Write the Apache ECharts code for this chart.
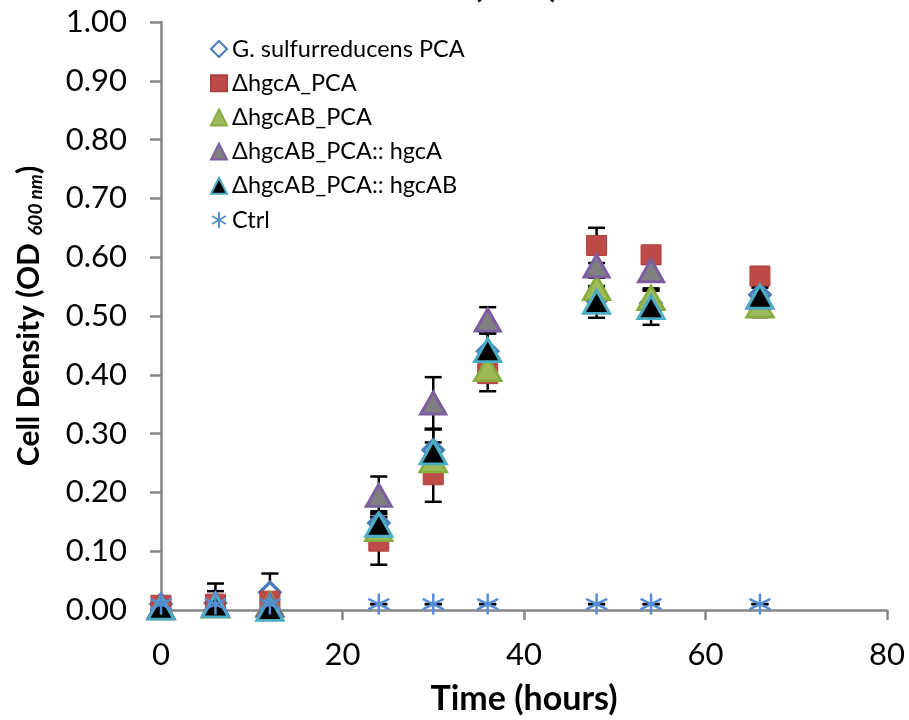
<!DOCTYPE html>
<html>
<head>
<meta charset="utf-8">
<script src="https://cdn.jsdelivr.net/npm/echarts@6/dist/echarts.min.js"></script>
<style>
  html, body { margin: 0; padding: 0; background: #fff; }
  #chart { width: 909px; height: 720px; }
</style>
</head>
<body>
<div id="chart"></div>
<script>
// sampling times (hours)
const times = [0, 6, 12, 24, 30, 36, 48, 54, 66]

// OD600 means
const wtPCA = [0.010, 0.012, 0.030, 0.148, 0.272, 0.440, 0.527, 0.522, 0.536]
const hgcA = [0.008, 0.010, 0.015, 0.117, 0.230, 0.402, 0.620, 0.604, 0.568]
const hgcAB = [0.005, 0.008, 0.010, 0.138, 0.255, 0.410, 0.548, 0.531, 0.518]
const hgcABcompA = [0.006, 0.010, 0.008, 0.195, 0.352, 0.493, 0.585, 0.577, 0.532]
const hgcABcompAB = [0.004, 0.008, 0.002, 0.145, 0.268, 0.442, 0.524, 0.515, 0.533]
const ctrl = [0.010, 0.010, 0.010, 0.010, 0.010, 0.010, 0.010, 0.010, 0.010]

// standard deviations
const wtPCAErr = [0.012, 0.020, 0.032, 0.020, 0.035, 0.030, 0.020, 0.025, 0.015]
const hgcAErr = [0.010, 0.035, 0.020, 0.040, 0.046, 0.030, 0.030, 0.015, 0.015]
const hgcABErr = [0.008, 0.010, 0.010, 0.020, 0.030, 0.020, 0.030, 0.012, 0.020]
const hgcABcompAErr = [0.005, 0.010, 0.010, 0.032, 0.044, 0.022, 0.020, 0.015, 0.020]
const hgcABcompABErr = [0.010, 0.010, 0.005, 0.020, 0.040, 0.030, 0.027, 0.030, 0.015]
const ctrlErr = [0, 0, 0, 0, 0, 0, 0, 0, 0]

const FONT = 'Lato'
const ASTERISK = 'path://M10,0L10,20M1.3,5L18.7,15M1.3,15L18.7,5'

const pairs = (vals) => times.map((t, i) => [t, vals[i]])
const errRows = (vals, errs) => times.map((t, i) => [t, vals[i] - errs[i], vals[i] + errs[i]])

const allErr = [].concat(
  errRows(wtPCA, wtPCAErr),
  errRows(hgcA, hgcAErr),
  errRows(hgcAB, hgcABErr),
  errRows(hgcABcompA, hgcABcompAErr),
  errRows(hgcABcompAB, hgcABcompABErr),
  errRows(ctrl, ctrlErr)
)

const chart = echarts.init(document.getElementById('chart'))

const option = {
  animation: false,
  title: {
    text: '(PCA)',
    left: 468,
    top: -36,
    textStyle: { fontFamily: FONT, fontWeight: 'bold', fontSize: 34, color: '#000' }
  },
  grid: { left: 161, right: 22, top: 22, bottom: 110, outerBoundsMode: 'none' },
  legend: {
    orient: 'vertical',
    left: 205,
    top: 32,
    itemWidth: 16,
    itemHeight: 16,
    itemGap: 10.2,
    textStyle: { fontFamily: FONT, fontSize: 23.5, lineHeight: 24, color: '#000' },
    data: ['G. sulfurreducens PCA', 'ΔhgcA_PCA', 'ΔhgcAB_PCA', 'ΔhgcAB_PCA:: hgcA', 'ΔhgcAB_PCA:: hgcAB', 'Ctrl']
  },
  xAxis: {
    type: 'value',
    min: 0,
    max: 80,
    interval: 20,
    name: 'Time (hours)',
    nameLocation: 'middle',
    nameGap: 72,
    nameTextStyle: { fontFamily: FONT, fontWeight: 'bold', fontSize: 34, color: '#000' },
    axisLine: { onZero: false, lineStyle: { color: '#868686', width: 2.5 } },
    axisTick: { length: 10, lineStyle: { color: '#868686', width: 2.5 } },
    axisLabel: { fontFamily: FONT, fontSize: 31, color: '#000', margin: 29 },
    splitLine: { show: false }
  },
  yAxis: {
    type: 'value',
    min: 0,
    max: 1,
    interval: 0.1,
    name: '{b|Cell Density (OD }{s|600 nm}{b|)}',
    nameLocation: 'middle',
    nameGap: 116,
    nameTextStyle: {
      rich: {
        b: { fontFamily: FONT, fontWeight: 'bold', fontSize: 30, color: '#000' },
        s: { fontFamily: FONT, fontWeight: 'bold', fontStyle: 'italic', fontSize: 19, color: '#000', padding: [12, 0, 0, 0] }
      }
    },
    axisLine: { show: true, lineStyle: { color: '#868686', width: 2.5 } },
    axisTick: { show: true, length: 11, lineStyle: { color: '#868686', width: 2.5 } },
    axisLabel: {
      fontFamily: FONT, fontSize: 31, color: '#000', margin: 34,
      formatter: (v) => v.toFixed(2)
    },
    splitLine: { show: false }
  },
  series: [
    {
      name: 'errors',
      type: 'custom',
      z: 1,
      silent: true,
      data: allErr,
      renderItem: function (params, api) {
        const x = api.value(0)
        const below = api.value(1) < 0
        const lo = api.coord([x, Math.max(0, api.value(1))])
        const hi = api.coord([x, api.value(2)])
        const w = 8.5
        const style = { stroke: '#000', lineWidth: 2.5 }
        const children = [
          { type: 'line', shape: { x1: lo[0], y1: lo[1], x2: hi[0], y2: hi[1] }, style },
          { type: 'line', shape: { x1: hi[0] - w, y1: hi[1], x2: hi[0] + w, y2: hi[1] }, style }
        ]
        if (!below) {
          children.push({ type: 'line', shape: { x1: lo[0] - w, y1: lo[1], x2: lo[0] + w, y2: lo[1] }, style })
        }
        return { type: 'group', children }
      }
    },
    {
      name: 'G. sulfurreducens PCA',
      type: 'scatter',
      z: 2,
      symbol: 'diamond',
      symbolSize: 20,
      itemStyle: { color: '#fff', borderColor: '#4A7EBB', borderWidth: 3.5, opacity: 1 },
      data: pairs(wtPCA)
    },
    {
      name: 'ΔhgcA_PCA',
      type: 'scatter',
      z: 3,
      symbol: 'rect',
      symbolSize: 20,
      itemStyle: { color: '#BE4B48', borderColor: '#B0413E', borderWidth: 1, opacity: 1 },
      data: pairs(hgcA)
    },
    {
      name: 'ΔhgcAB_PCA',
      type: 'scatter',
      z: 4,
      symbol: 'triangle',
      symbolSize: [27, 24],
      itemStyle: { color: '#9BBB59', borderColor: '#86AC3E', borderWidth: 2.5, opacity: 1 },
      data: pairs(hgcAB)
    },
    {
      name: 'ΔhgcAB_PCA:: hgcA',
      type: 'scatter',
      z: 5,
      symbol: 'triangle',
      symbolSize: [25, 22],
      itemStyle: { color: '#808080', borderColor: '#7B5FA0', borderWidth: 3, opacity: 1 },
      data: pairs(hgcABcompA)
    },
    {
      name: 'ΔhgcAB_PCA:: hgcAB',
      type: 'scatter',
      z: 6,
      symbol: 'triangle',
      symbolSize: [26, 23],
      itemStyle: { color: '#000', borderColor: '#4BACC6', borderWidth: 3, opacity: 1 },
      data: pairs(hgcABcompAB)
    },
    {
      name: 'Ctrl',
      type: 'scatter',
      z: 7,
      symbol: ASTERISK,
      symbolSize: 21,
      itemStyle: { color: 'rgba(0,0,0,0)', borderColor: '#558ED5', borderWidth: 2.5, opacity: 1 },
      data: pairs(ctrl)
    }
  ]
}

chart.setOption(option)
</script>
</body>
</html>
